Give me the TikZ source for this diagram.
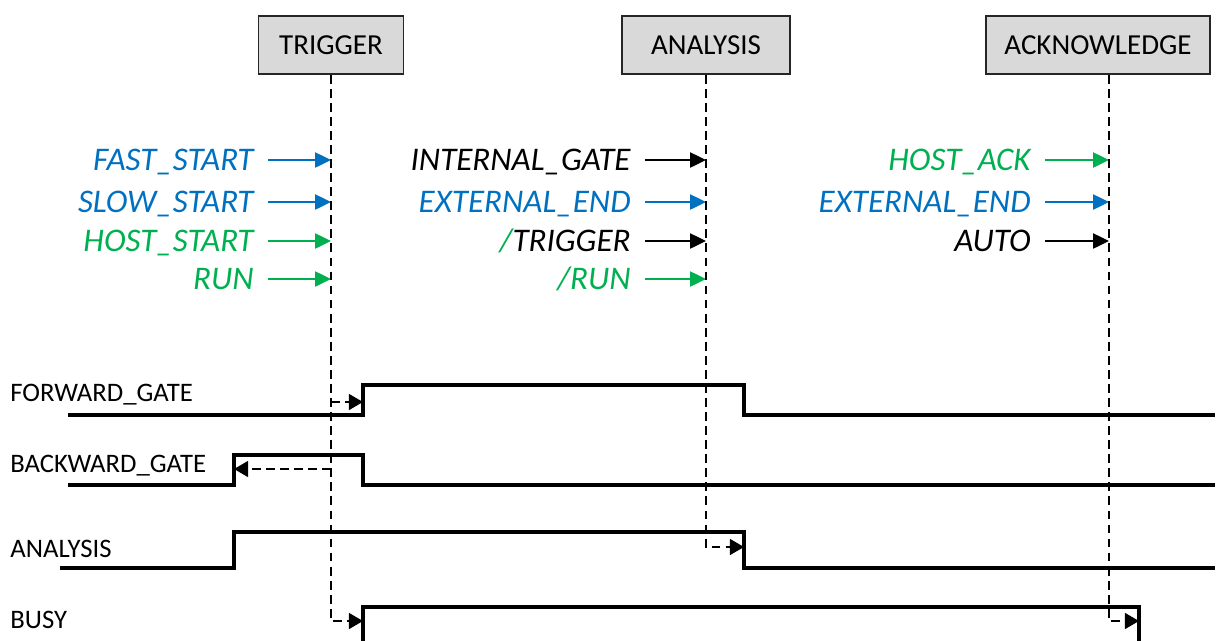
\documentclass[tikz,border=0pt]{standalone}
\usepackage{fontspec}
\setmainfont{Carlito}
\usetikzlibrary{arrows.meta}
\definecolor{sigblue}{HTML}{0070C0}
\definecolor{siggreen}{HTML}{00B050}
\definecolor{boxgray}{HTML}{D9D9D9}
\tikzset{
  phase/.style={draw=black!85,fill=boxgray,line width=0.9pt,minimum height=1.16cm,font=\fontsize{16.5}{20}\selectfont},
  cond/.style={anchor=east,inner xsep=8pt,inner ysep=0pt,text height=12.1pt,text depth=0pt,font=\fontsize{18.8}{22}\selectfont\itshape},
  siglabel/.style={anchor=west,inner sep=0pt,text height=9.8pt,text depth=0pt,font=\fontsize{15.2}{18}\selectfont},
  condarrow/.style={line width=1.2pt,-{Triangle[length=9pt,width=8.5pt]}},
  life/.style={dash pattern=on 5pt off 3pt,line width=1.1pt},
  lifearrow/.style={life,-{Triangle[length=8pt,width=9pt]}},
  wave/.style={line width=2pt}
}
\begin{document}
\begin{tikzpicture}[x=0.02cm,y=-0.02cm]
\useasboundingbox (0,0) rectangle (1225,640);
% phases
\node[phase,minimum width=2.9cm] (trig) at (331,45) {TRIGGER};
\node[phase,minimum width=3.36cm] (ana) at (706,45) {ANALYSIS};
\node[phase,minimum width=4.48cm] (ack) at (1098,45) {ACKNOWLEDGE};

% conditions
\foreach \txt/\col/\y [count=\i] in {FAST\_START/sigblue/160,SLOW\_START/sigblue/202,
    HOST\_START/siggreen/241,RUN/siggreen/279}{
  \node[cond,text=\col] (tc\i) at (268,\y) {\txt};
  \draw[condarrow,\col] (tc\i.east) -- (tc\i.east -| trig.south);
}
\foreach \txt/\col/\y [count=\i] in {INTERNAL\_GATE/black/160,EXTERNAL\_END/sigblue/202,
    {\textcolor{siggreen}{/}TRIGGER}/black/241,{/RUN}/siggreen/279}{
  \node[cond,text=\col] (ac\i) at (645,\y) {\txt};
  \draw[condarrow,\col] (ac\i.east) -- (ac\i.east -| ana.south);
}
\foreach \txt/\col/\y [count=\i] in {HOST\_ACK/siggreen/160,EXTERNAL\_END/sigblue/202,AUTO/black/241}{
  \node[cond,text=\col] (kc\i) at (1045,\y) {\txt};
  \draw[condarrow,\col] (kc\i.east) -- ([xshift=0.22cm]kc\i.east -| ack.south);
}

% signals
\node[siglabel] (fwd) at (10,393) {FORWARD\_GATE};
\node[siglabel] (bwd) at (10,464) {BACKWARD\_GATE};
\node[siglabel] (anl) at (10,549) {ANALYSIS};
\node[siglabel] (busy) at (10,620) {BUSY};
\draw[wave] (68,415) -- (363,415) -- (363,385) -- (744,385) -- (744,415) -- (1215,415);
\draw[wave] (68,485) -- (234,485) -- (234,455) -- (363,455) -- (363,485) -- (1215,485);
\draw[wave] (60,568) -- (234,568) -- (234,532) -- (744,532) -- (744,568) -- (1215,568);
\draw[wave] (363,641) -- (363,607) -- (1139,607) -- (1139,641);

% lifelines
\coordinate (fwup) at (363,402);
\coordinate (bwup) at (234,469);
\coordinate (anfall) at (744,547);
\coordinate (busyup) at (363,621);
\coordinate (busyend) at (1139,621);
\draw[lifearrow] (trig.south) |- (busyup);
\draw[lifearrow] (fwup -| trig.south) -- (fwup);
\draw[lifearrow] (bwup -| trig.south) -- (bwup);
\draw[lifearrow] (ana.south) |- (anfall);
\draw[lifearrow] ([xshift=0.22cm]ack.south) |- (busyend);
\end{tikzpicture}
\end{document}
